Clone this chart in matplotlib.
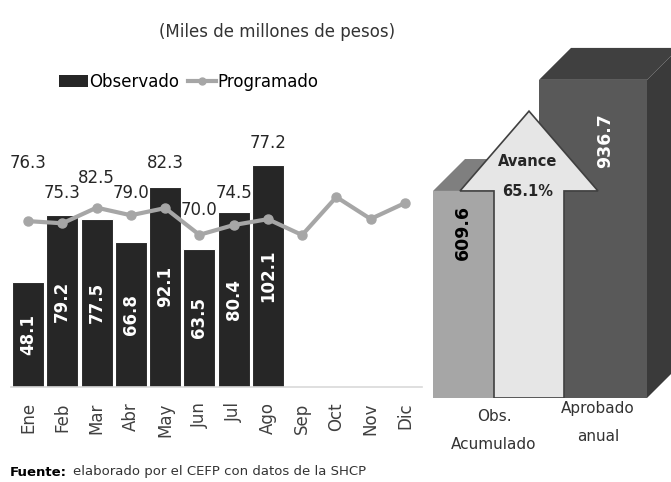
import matplotlib
matplotlib.use("Agg")
import matplotlib.pyplot as plt
from matplotlib.patches import Polygon, Patch
from matplotlib.lines import Line2D

# monthly data (left panel)
months = ["Ene", "Feb", "Mar", "Abr", "May", "Jun", "Jul", "Ago", "Sep", "Oct", "Nov", "Dic"]
observado = [48.1, 79.2, 77.5, 66.8, 92.1, 63.5, 80.4, 102.1]
programado = [76.3, 75.3, 82.5, 79.0, 82.3, 70.0, 74.5, 77.2, 69.9, 87.4, 77.3, 84.6]
# how far above the taller mark each "programado" label sits
label_lift = [26.7, 10.2, 13.7, 10.4, 10.9, 11.4, 9.0, 10.1]

# summary data (right panel)
resumen_labels = ["Obs.\nAcumulado", "Aprobado\nanual"]
resumen_values = [609.6, 936.7]
avance = resumen_values[0] / resumen_values[1] * 100

DARK = "#262626"
LINE_GRAY = "#a6a6a6"
TEXT = "#333333"

W, H = 671, 482
fig = plt.figure(figsize=(W / 100, H / 100), dpi=100)

# region left panel: bars + line
ax = fig.add_axes([11 / W, 95 / H, 411 / W, 250 / H])
x_obs = list(range(len(observado)))
x_all = list(range(len(months)))
ax.bar(x_obs, observado, width=0.94, color=DARK, edgecolor="white", linewidth=0.8, zorder=2)
ax.plot(x_all, programado, color=LINE_GRAY, lw=3, marker="o", ms=6.5, zorder=3)

for i, v in enumerate(observado):
    ax.text(i, v / 2, f"{v:.1f}", rotation=90, ha="center", va="center",
            color="white", fontsize=12, fontweight="bold", zorder=4)
    y = max(v, programado[i]) + label_lift[i]
    ax.text(i, y, f"{programado[i]:.1f}", ha="center", va="center",
            color=DARK, fontsize=12, zorder=4)

ax.set_xlim(-0.5, len(months) - 0.5)
ax.set_ylim(0, 115)
ax.set_xticks(x_all)
ax.set_xticklabels(months, rotation=90, fontsize=12, color="#404040")
ax.tick_params(axis="x", length=0, pad=11)
ax.set_yticks([])
for s in ["top", "left", "right"]:
    ax.spines[s].set_visible(False)
ax.spines["bottom"].set_color("#d9d9d9")
ax.spines["bottom"].set_linewidth(1.2)

handles = [Patch(facecolor=DARK),
           Line2D([], [], color=LINE_GRAY, lw=3, marker="o", ms=5)]
fig.legend(handles, ["Observado", "Programado"], loc="center",
           bbox_to_anchor=(189 / W, 400 / H), ncol=2, frameon=False, fontsize=12,
           handlelength=1.7, handletextpad=0.1, columnspacing=0.5)

fig.text(277 / W, 1 - 32 / H, "(Miles de millones de pesos)", ha="center", va="center",
         fontsize=12, color=TEXT)
# endregion

# region right panel: pseudo 3d columns with arrow
axr = fig.add_axes([420 / W, 84 / H, 251 / W, 358 / H])
axr.set_xlim(0, 251)
axr.set_ylim(0, 1054)
axr.axis("off")

dx, dy = 32, 94


def box3d(ax, x0, w, h, front, side, top):
    ax.add_patch(Polygon([(x0 + w, 0), (x0 + w + dx, dy), (x0 + w + dx, h + dy), (x0 + w, h)],
                         closed=True, facecolor=side, edgecolor="none"))
    ax.add_patch(Polygon([(x0, h), (x0 + w, h), (x0 + w + dx, h + dy), (x0 + dx, h + dy)],
                         closed=True, facecolor=top, edgecolor="none"))
    ax.add_patch(Polygon([(x0, 0), (x0 + w, 0), (x0 + w, h), (x0, h)],
                         closed=True, facecolor=front, edgecolor="none"))


bar_x = [13, 119]
bar_w = [100, 108]
box3d(axr, bar_x[0], bar_w[0], resumen_values[0], "#a6a6a6", "#8c8c8c", "#7f7f7f")
box3d(axr, bar_x[1], bar_w[1], resumen_values[1], "#595959", "#3a3a3a", "#404040")

# arrow
cx = 109
base = resumen_values[0]
tip = base + 235
arrow = [(cx - 35, 0), (cx + 35, 0), (cx + 35, base), (cx + 69, base), (cx, tip),
         (cx - 69, base), (cx - 35, base)]
axr.add_patch(Polygon(arrow, closed=True, facecolor="#e6e6e6", edgecolor="#404040",
                      lw=1.2, zorder=3))
axr.text(cx - 1, base + 86, "Avance", ha="center", va="center",
         fontsize=10.5, fontweight="bold", color=DARK, zorder=4)
axr.text(cx - 1, base - 2, f"{avance:.1f}%", ha="center", va="center",
         fontsize=10.5, fontweight="bold", color=DARK, zorder=4)

axr.text(43, resumen_values[0] * 0.8, f"{resumen_values[0]:.1f}", rotation=90,
         ha="center", va="center", fontsize=12.5, fontweight="bold", color="black", zorder=4)
axr.text(185, resumen_values[1] * 0.81, f"{resumen_values[1]:.1f}", rotation=90,
         ha="center", va="center", fontsize=12.5, fontweight="bold", color="white", zorder=4)

label_x = [74, 178]
label_drop = [-8, -2]
for lx, dyp, lab in zip(label_x, label_drop, resumen_labels):
    axr.annotate(lab, xy=(lx, 0), xytext=(0, dyp), textcoords="offset points",
                 ha="center", va="top", fontsize=11, color=TEXT, linespacing=2.1,
                 annotation_clip=False)
# endregion

src = fig.text(10 / W, 1 - 472 / H, "Fuente:", fontsize=9.5, fontweight="bold",
               color="black", va="center")
fig.add_artist(plt.Annotation("elaborado por el CEFP con datos de la SHCP", xy=(1, 0.5),
                              xycoords=src, xytext=(4, 0), textcoords="offset points",
                              va="center", fontsize=9.5, color=TEXT))

fig.savefig("out.png", dpi=100)
